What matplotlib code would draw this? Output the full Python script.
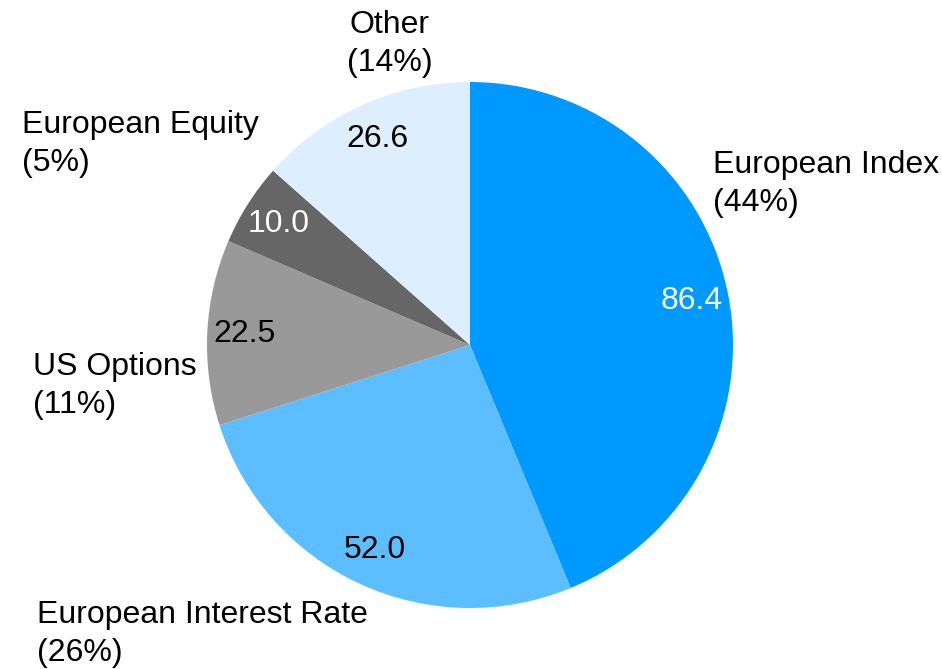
import matplotlib
matplotlib.use("Agg")
import matplotlib.pyplot as plt

plt.rcParams['font.family'] = ['Liberation Sans', 'DejaVu Sans']

categories = ["European Index", "European Interest Rate", "US Options", "European Equity", "Other"]
values = [86.4, 52.0, 22.5, 10.0, 26.6]
percent_labels = ["44%", "26%", "11%", "5%", "14%"]
colors = ["#0099FF", "#5CBEFF", "#999999", "#666666", "#DDEEFF"]
value_text_colors = ["white", "black", "black", "white", "black"]

W, H = 942, 669
CX, CY, R = 470, 345, 263
FS = 23

fig = plt.figure(figsize=(W / 100, H / 100), dpi=100)
ax = fig.add_axes([(CX - R) / W, (H - CY - R) / H, 2 * R / W, 2 * R / H])

wedges, texts, autotexts = ax.pie(
    values, colors=colors, startangle=90, counterclock=False, radius=1,
    autopct='%1.1f', pctdistance=0.86,
    wedgeprops=dict(linewidth=0),
    textprops=dict(fontsize=FS),
)
ax.set_xlim(-1, 1)
ax.set_ylim(-1, 1)
ax.axis('off')
for t, v, c in zip(autotexts, values, value_text_colors):
    t.set_text(f"{v:.1f}")
    t.set_color(c)

def px(x, y):
    return (x - CX) / R, (CY - y) / R

# outer label placement (pixel positions of text anchor)
label_pos = {
    "European Index": (713, 184, 'left'),
    "European Interest Rate": (37, 634, 'left'),
    "US Options": (33, 386, 'left'),
    "European Equity": (22, 144, 'left'),
    "Other": (390, 44, 'center'),
}
for cat, pct in zip(categories, percent_labels):
    x, y, ha = label_pos[cat]
    dx, dy = px(x, y)
    ax.text(dx, dy, f"{cat}\n({pct})", ha=ha, va='center', fontsize=FS,
            multialignment='center' if ha == 'center' else 'left',
            clip_on=False, linespacing=1.36)

fig.savefig("out.png", dpi=100)
